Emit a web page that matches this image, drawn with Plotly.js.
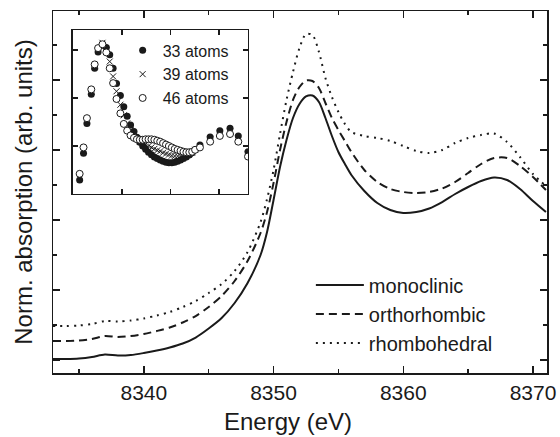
<!DOCTYPE html>
<html>
<head>
<meta charset="utf-8">
<script src="https://cdn.plot.ly/plotly-3.0.1.min.js"></script>
<style>html,body{margin:0;padding:0;background:#fff;}#chart{width:560px;height:437px;}</style>
</head>
<body>
<div id="chart"></div>
<script>
// Main spectra (energy in eV, normalized absorption in arbitrary units)
const energy = [8333, 8334, 8335, 8336, 8337, 8338, 8339, 8340, 8341, 8342, 8343, 8344, 8345, 8346, 8347, 8348, 8349, 8349.5, 8350, 8350.5, 8351, 8351.5, 8352, 8352.5, 8353, 8353.5, 8354, 8354.5, 8355, 8355.5, 8356, 8357, 8358, 8359, 8360, 8361, 8362, 8363, 8364, 8365, 8366, 8367, 8368, 8369, 8370, 8371];
const monoclinic = [0.029, 0.029, 0.043, 0.086, 0.157, 0.129, 0.143, 0.2, 0.271, 0.357, 0.471, 0.643, 0.9, 1.2, 1.629, 2.2, 3.0, 3.657, 4.571, 5.514, 6.286, 6.914, 7.314, 7.529, 7.557, 7.371, 6.914, 6.4, 5.943, 5.6, 5.286, 4.829, 4.486, 4.286, 4.2, 4.229, 4.329, 4.514, 4.743, 4.943, 5.114, 5.214, 5.143, 4.886, 4.543, 4.229];
const orthorhombic = [0.543, 0.543, 0.557, 0.6, 0.686, 0.657, 0.686, 0.743, 0.829, 0.929, 1.071, 1.257, 1.514, 1.829, 2.257, 2.829, 3.629, 4.229, 5.057, 6.0, 6.8, 7.429, 7.8, 7.986, 7.971, 7.771, 7.343, 6.914, 6.571, 6.257, 5.943, 5.429, 5.086, 4.886, 4.8, 4.771, 4.8, 4.9, 5.086, 5.343, 5.6, 5.771, 5.771, 5.543, 5.229, 4.857];
const rhombohedral = [0.971, 0.971, 0.986, 1.029, 1.114, 1.1, 1.129, 1.186, 1.271, 1.371, 1.514, 1.686, 1.914, 2.171, 2.543, 3.086, 3.943, 4.6, 5.429, 6.457, 7.429, 8.229, 8.914, 9.314, 9.286, 8.8, 8.057, 7.514, 7.086, 6.743, 6.514, 6.4, 6.343, 6.257, 6.114, 5.971, 5.914, 6.0, 6.2, 6.343, 6.429, 6.471, 6.229, 5.8, 5.314, 4.971];
const seriesNames = ["monoclinic", "orthorhombic", "rhombohedral"];
const xTitle = "Energy (eV)";
const yTitle = "Norm. absorption (arb. units)";

// Inset (cluster size comparison)
const insetX = [0.13, 0.21, 0.28, 0.37, 0.44, 0.51, 0.60, 0.68, 0.75, 0.82, 0.89, 0.97, 1.04, 1.11, 1.18, 1.25, 1.31, 1.37, 1.43, 1.49, 1.55, 1.61, 1.67, 1.73, 1.79, 1.85, 1.91, 1.97, 2.03, 2.09, 2.15, 2.21, 2.27, 2.33, 2.39, 2.45, 2.51, 2.61, 2.82, 3.02, 3.23, 3.40, 3.60];
const atoms33 = [0.29, 0.85, 1.47, 2.08, 2.62, 2.96, 3.10, 3.05, 2.90, 2.62, 2.30, 2.05, 1.82, 1.62, 1.44, 1.30, 1.18, 1.08, 1.00, 0.93, 0.87, 0.82, 0.77, 0.74, 0.71, 0.68, 0.66, 0.65, 0.65, 0.66, 0.68, 0.71, 0.74, 0.77, 0.81, 0.86, 0.92, 1.02, 1.19, 1.32, 1.37, 1.21, 0.88];
const atoms39 = [0.35, 0.90, 1.52, 2.13, 2.66, 3.00, 3.15, 3.00, 2.76, 2.45, 2.14, 1.86, 1.64, 1.47, 1.33, 1.23, 1.16, 1.10, 1.06, 1.03, 1.00, 0.97, 0.94, 0.91, 0.89, 0.86, 0.84, 0.82, 0.80, 0.79, 0.79, 0.79, 0.80, 0.82, 0.84, 0.87, 0.92, 1.00, 1.14, 1.27, 1.31, 1.15, 0.83];
const atoms46 = [0.42, 0.97, 1.58, 2.18, 2.70, 3.04, 3.12, 2.95, 2.62, 2.31, 1.98, 1.68, 1.46, 1.32, 1.22, 1.17, 1.14, 1.13, 1.13, 1.14, 1.14, 1.14, 1.13, 1.11, 1.09, 1.06, 1.03, 1.00, 0.97, 0.94, 0.92, 0.90, 0.88, 0.87, 0.87, 0.88, 0.92, 0.97, 1.09, 1.21, 1.25, 1.09, 0.78];
const insetNames = ["33 atoms", "39 atoms", "46 atoms"];

const FONT = "Liberation Sans, Arial, Helvetica, sans-serif";
const INK = "#1a1a1a";

const traces = [
  {x: energy, y: monoclinic, name: seriesNames[0], type: "scatter", mode: "lines",
   line: {color: INK, width: 2, shape: "spline", smoothing: 0.8}, xaxis: "x", yaxis: "y", legend: "legend"},
  {x: energy, y: orthorhombic, name: seriesNames[1], type: "scatter", mode: "lines",
   line: {color: INK, width: 2, dash: "8px,5px", shape: "spline", smoothing: 0.8}, xaxis: "x", yaxis: "y", legend: "legend"},
  {x: energy, y: rhombohedral, name: seriesNames[2], type: "scatter", mode: "lines",
   line: {color: INK, width: 2, dash: "2px,5px", shape: "spline", smoothing: 0.8}, xaxis: "x", yaxis: "y", legend: "legend"},
  {x: insetX, y: atoms33, name: insetNames[0], type: "scatter", mode: "markers",
   marker: {symbol: "circle", size: 7, color: INK}, xaxis: "x2", yaxis: "y2", legend: "legend2"},
  {x: insetX, y: atoms39, name: insetNames[1], type: "scatter", mode: "markers",
   marker: {symbol: "x-thin", size: 6, color: INK, line: {color: INK, width: 1}}, xaxis: "x2", yaxis: "y2", legend: "legend2"},
  {x: insetX, y: atoms46, name: insetNames[2], type: "scatter", mode: "markers",
   marker: {symbol: "circle", size: 7, color: "#ffffff", line: {color: INK, width: 1}}, xaxis: "x2", yaxis: "y2", legend: "legend2"}
];

const axBase = {showline: true, linecolor: INK, linewidth: 1.5, showgrid: false, zeroline: false,
  ticks: "inside", tickcolor: INK, tickwidth: 1.5, mirror: "ticks"};

const layout = {
  width: 560, height: 437,
  margin: {l: 53, r: 13, t: 11, b: 64},
  paper_bgcolor: "#ffffff", plot_bgcolor: "#ffffff",
  font: {family: FONT, color: INK, size: 20},
  xaxis: Object.assign({}, axBase, {
    range: [8333, 8371.08], tickmode: "linear", tick0: 8330, dtick: 10, ticklen: 7,
    minor: {dtick: 5, tick0: 8330, ticks: "inside", ticklen: 4, tickcolor: INK, tickwidth: 1.5, showgrid: false},
    tickfont: {size: 21, family: FONT, color: INK}
  }),
  yaxis: Object.assign({}, axBase, {
    range: [-0.371, 9.971], tickmode: "linear", tick0: 0, dtick: 2, ticklen: 7, showticklabels: false,
    minor: {dtick: 1, tick0: 0, ticks: "inside", ticklen: 4, tickcolor: INK, tickwidth: 1.5, showgrid: false},
    title: {text: yTitle, font: {size: 24, family: FONT, color: INK}, standoff: 12}
  }),
  xaxis2: Object.assign({}, axBase, {
    domain: [0.0395, 0.3947], anchor: "y2", range: [-0.017, 3.6],
    tickmode: "array", tickvals: [1, 2, 3], ticklen: 5, showticklabels: false
  }),
  yaxis2: Object.assign({}, axBase, {
    domain: [0.4945, 0.9475], anchor: "x2", range: [0, 3.417],
    tickmode: "array", tickvals: [1, 2, 3], ticklen: 5, showticklabels: false
  }),
  annotations: [
    {text: xTitle, xref: "paper", yref: "paper", x: 0.475, y: 0, xanchor: "center", yanchor: "top",
     yshift: -33, showarrow: false, font: {size: 24, family: FONT, color: INK}}
  ],
  legend: {x: 0.522, y: 0.297, xanchor: "left", yanchor: "top", bgcolor: "rgba(0,0,0,0)",
    font: {size: 20, family: FONT, color: INK}, traceorder: "normal", itemwidth: 48},
  legend2: {x: 0.141, y: 0.938, xanchor: "left", yanchor: "top", bgcolor: "rgba(0,0,0,0)",
    font: {size: 16, family: FONT, color: INK}, traceorder: "normal", itemwidth: 30},
  showlegend: true
};

Plotly.newPlot("chart", traces, layout, {displayModeBar: false, staticPlot: true});
</script>
</body>
</html>
